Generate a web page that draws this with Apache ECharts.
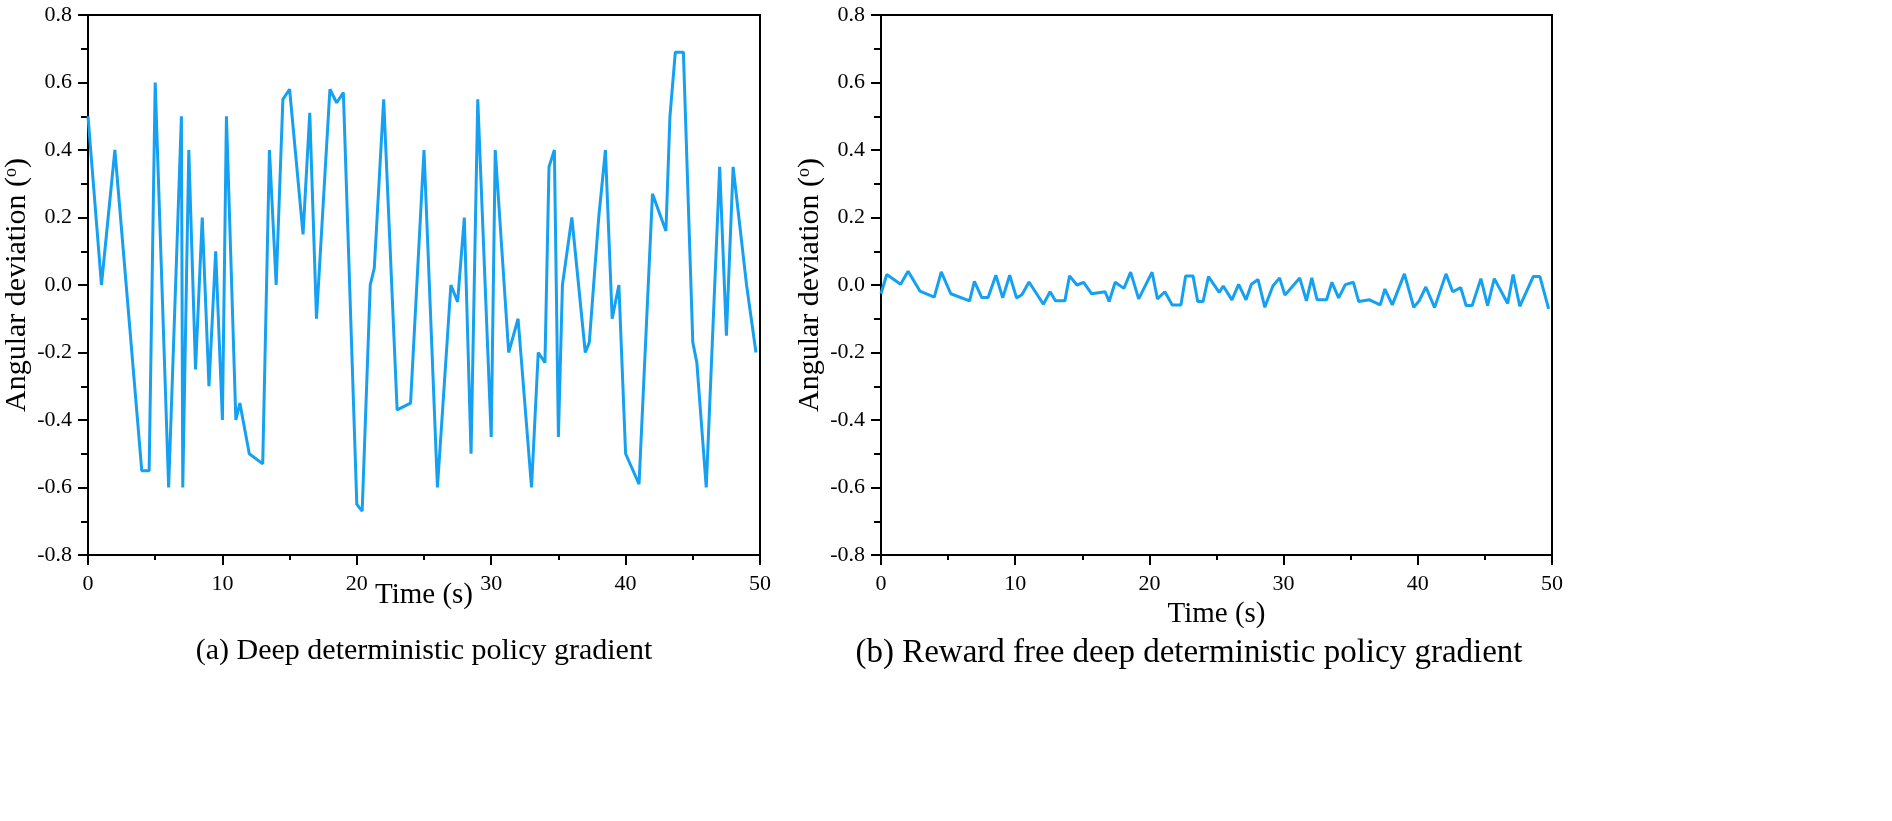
<!DOCTYPE html>
<html>
<head>
<meta charset="utf-8">
<script src="https://cdn.jsdelivr.net/npm/echarts@6/dist/echarts.min.js"></script>
<style>
html,body{margin:0;padding:0;background:#fff;}
#chart{width:1892px;height:821px;}
</style>
</head>
<body>
<div id="chart"></div>
<script>
// (a) Deep deterministic policy gradient
const timeA = [0, 1.0, 2.0, 4.0, 4.55, 5.0, 6.0, 6.95, 7.05, 7.5, 8.0, 8.5, 9.0, 9.5, 10.0, 10.3, 11.0, 11.3, 12.0, 13.0,
  13.5, 14.0, 14.5, 15.0, 16.0, 16.5, 17.0, 18.0, 18.5, 19.0, 20.0, 20.4, 21.0, 21.3, 22.0, 23.0, 24.0, 25.0, 26.0,
  27.0, 27.5, 28.0, 28.5, 29.0, 30.0, 30.3, 31.3, 32.0, 33.0, 33.5, 34.0, 34.3, 34.7, 35.0, 35.3, 36.0, 37.0, 37.3,
  38.0, 38.5, 39.0, 39.5, 40.0, 41.0, 42.0, 43.0, 43.3, 43.7, 44.3, 45.0, 45.3, 46.0, 47.0, 47.5, 48.0, 49.0, 49.7];
const deviationA = [0.50, 0.00, 0.40, -0.55, -0.55, 0.60, -0.60, 0.50, -0.60, 0.40, -0.25, 0.20, -0.30, 0.10, -0.40, 0.50, -0.40, -0.35, -0.50, -0.53,
  0.40, 0.00, 0.55, 0.58, 0.15, 0.51, -0.10, 0.58, 0.54, 0.57, -0.65, -0.67, 0.00, 0.05, 0.55, -0.37, -0.35, 0.40, -0.60,
  0.00, -0.05, 0.20, -0.50, 0.55, -0.45, 0.40, -0.20, -0.10, -0.60, -0.20, -0.23, 0.35, 0.40, -0.45, 0.00, 0.20, -0.20, -0.17,
  0.20, 0.40, -0.10, 0.00, -0.50, -0.59, 0.27, 0.16, 0.50, 0.69, 0.69, -0.17, -0.23, -0.60, 0.35, -0.15, 0.35, 0.00, -0.20];

// (b) Reward free deep deterministic policy gradient
const timeB = [0, 0.43, 1.46, 2.02, 2.9, 3.97, 4.49, 5.2, 6.6, 6.96, 7.5, 7.98, 8.56, 9.07, 9.59, 10.1, 10.5, 11.03, 12.1, 12.6,
  13.0, 13.7, 14.05, 14.6, 15.1, 15.7, 16.7, 17.0, 17.45, 18.1, 18.6, 19.2, 20.2, 20.6, 21.15, 21.7, 22.35, 22.7, 23.25, 23.6,
  24.0, 24.4, 25.2, 25.5, 26.15, 26.65, 27.2, 27.6, 28.1, 28.6, 29.2, 29.7, 30.1, 31.2, 31.7, 32.1, 32.5, 33.2, 33.6, 34.1,
  34.6, 35.2, 35.6, 36.4, 37.2, 37.55, 38.1, 39.0, 39.7, 40.1, 40.6, 41.25, 42.1, 42.6, 43.2, 43.6, 44.05, 44.7, 45.2, 45.7,
  46.7, 47.1, 47.6, 48.6, 49.1, 49.75];
const deviationB = [-0.026, 0.031, 0.002, 0.041, -0.018, -0.036, 0.039, -0.026, -0.047, 0.011, -0.037, -0.037, 0.029, -0.038, 0.029, -0.038, -0.029, 0.009, -0.057, -0.020,
  -0.047, -0.047, 0.027, 0.000, 0.008, -0.026, -0.020, -0.049, 0.008, -0.010, 0.038, -0.041, 0.038, -0.041, -0.020, -0.059, -0.059, 0.027, 0.027, -0.049,
  -0.049, 0.025, -0.022, -0.003, -0.044, 0.002, -0.044, 0.002, 0.016, -0.066, -0.003, 0.021, -0.030, 0.021, -0.047, 0.021, -0.044, -0.044, 0.008, -0.038,
  0.001, 0.008, -0.049, -0.044, -0.059, -0.012, -0.059, 0.033, -0.066, -0.047, -0.006, -0.067, 0.033, -0.020, -0.008, -0.061, -0.061, 0.019, -0.061, 0.019,
  -0.055, 0.031, -0.063, 0.025, 0.025, -0.071];

const xTicks = [0, 10, 20, 30, 40, 50];
const yTicks = [-0.8, -0.6, -0.4, -0.2, 0.0, 0.2, 0.4, 0.6, 0.8];

const xLabel = 'Time (s)';
const yLabel = 'Angular deviation (';
const captionA = '(a) Deep deterministic policy gradient';
const captionB = '(b) Reward free deep deterministic policy gradient';

const FONT = '"Liberation Serif", "Times New Roman", serif';
const LINE_COLOR = '#15a0f2';

function pairs(xs, ys) { return xs.map((x, i) => [x, ys[i]]); }

function xAxisCfg(gridIndex, nameGap) {
  return {
    type: 'value', gridIndex: gridIndex,
    min: xTicks[0], max: xTicks[xTicks.length - 1], interval: xTicks[1] - xTicks[0],
    name: xLabel, nameLocation: 'middle', nameGap: nameGap, nameMoveOverlap: false,
    nameTextStyle: { fontFamily: FONT, fontSize: 29, color: '#000' },
    axisLine: { show: true, onZero: false, lineStyle: { color: '#000', width: 2 } },
    axisTick: { show: true, inside: false, length: 10, lineStyle: { color: '#000', width: 2 } },
    minorTick: { show: true, splitNumber: 2, length: 5, lineStyle: { color: '#000', width: 2 } },
    axisLabel: { fontFamily: FONT, fontSize: 22, color: '#000', margin: 18 },
    splitLine: { show: false }
  };
}
function yAxisCfg(gridIndex, nameGap) {
  return {
    type: 'value', gridIndex: gridIndex,
    min: yTicks[0], max: yTicks[yTicks.length - 1], interval: 0.2,
    name: '{n|' + yLabel + '}{s|o}{n|)}', nameLocation: 'middle', nameGap: nameGap, nameRotate: 90, nameMoveOverlap: false,
    nameTextStyle: {
      fontFamily: FONT, fontSize: 30, color: '#000',
      rich: {
        n: { fontFamily: FONT, fontSize: 30, color: '#000' },
        s: { fontFamily: FONT, fontSize: 18, color: '#000', verticalAlign: 'top', padding: [0, 0, 13, 0] }
      }
    },
    axisLine: { show: true, onZero: false, lineStyle: { color: '#000', width: 2 } },
    axisTick: { show: true, inside: false, length: 10, lineStyle: { color: '#000', width: 2 } },
    minorTick: { show: true, splitNumber: 2, length: 7, lineStyle: { color: '#000', width: 2 } },
    axisLabel: { fontFamily: FONT, fontSize: 22, color: '#000', margin: 16,
      formatter: v => (Math.abs(v) < 1e-9 ? 0 : v).toFixed(1) },
    splitLine: { show: false }
  };
}

const chart = echarts.init(document.getElementById('chart'), null, { renderer: 'canvas' });
chart.setOption({
  backgroundColor: '#fff',
  animation: false,
  grid: [
    { left: 88, top: 15, width: 672, height: 540, show: true, borderColor: '#000', borderWidth: 2, backgroundColor: 'transparent' },
    { left: 881, top: 15, width: 671, height: 540, show: true, borderColor: '#000', borderWidth: 2, backgroundColor: 'transparent' }
  ],
  xAxis: [xAxisCfg(0, 26), xAxisCfg(1, 45)],
  yAxis: [yAxisCfg(0, 55), yAxisCfg(1, 55)],
  series: [
    { type: 'line', xAxisIndex: 0, yAxisIndex: 0, data: pairs(timeA, deviationA), showSymbol: false,
      lineStyle: { color: LINE_COLOR, width: 3 }, itemStyle: { color: LINE_COLOR } },
    { type: 'line', xAxisIndex: 1, yAxisIndex: 1, data: pairs(timeB, deviationB), showSymbol: false,
      lineStyle: { color: LINE_COLOR, width: 3 }, itemStyle: { color: LINE_COLOR } }
  ],
  graphic: [
    { type: 'text', x: 424, y: 651, style: { text: captionA, font: '30px ' + FONT, fill: '#000', align: 'center', verticalAlign: 'middle', textAlign: 'center', textVerticalAlign: 'middle' } },
    { type: 'text', x: 1189, y: 653, style: { text: captionB, font: '33px ' + FONT, fill: '#000', align: 'center', verticalAlign: 'middle', textAlign: 'center', textVerticalAlign: 'middle' } }
  ]
});
</script>
</body>
</html>
